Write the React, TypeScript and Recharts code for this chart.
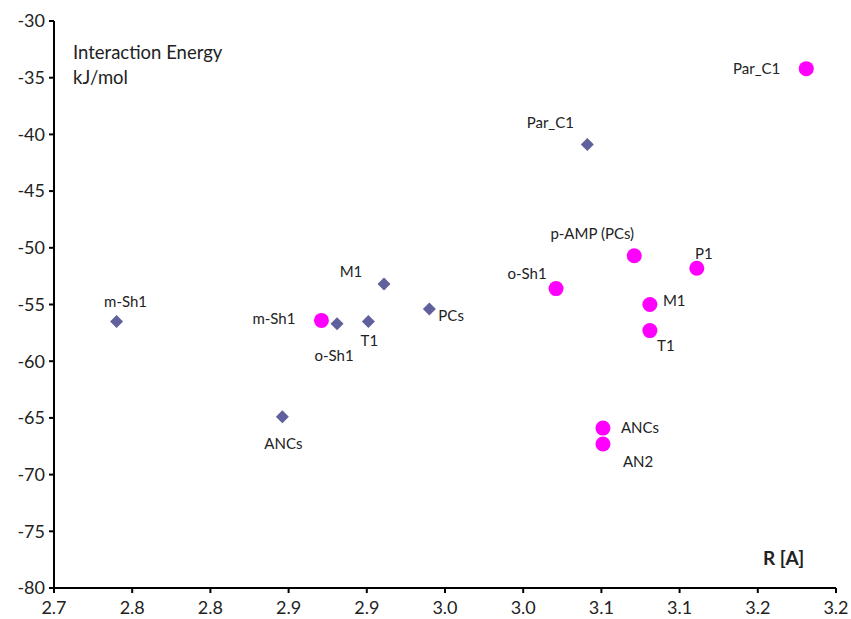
import { ScatterChart, Scatter, XAxis, YAxis } from 'recharts'

// R [A] vs interaction energy, two sets of complexes
const diamondNames = ['m-Sh1', 'ANCs', 'o-Sh1', 'T1', 'M1', 'PCs', 'Par_C1']
const diamondR = [2.740, 2.846, 2.881, 2.901, 2.911, 2.940, 3.041]
const diamondE = [-56.5, -64.9, -56.7, -56.5, -53.2, -55.4, -40.9]

const circleNames = ['m-Sh1', 'o-Sh1', 'p-AMP (PCs)', 'P1', 'M1', 'T1', 'ANCs', 'AN2', 'Par_C1']
const circleR = [2.871, 3.021, 3.071, 3.111, 3.081, 3.081, 3.051, 3.051, 3.181]
const circleE = [-56.4, -53.6, -50.7, -51.8, -55.0, -57.3, -65.9, -67.3, -34.2]

const xTicks = [2.7, 2.75, 2.8, 2.85, 2.9, 2.95, 3.0, 3.05, 3.1, 3.15, 3.2]
const xTickLabels = ['2.7', '2.8', '2.8', '2.9', '2.9', '3.0', '3.0', '3.1', '3.1', '3.2', '3.2']
const yTicks = [-80, -75, -70, -65, -60, -55, -50, -45, -40, -35, -30]

const FONT = 'Lato, "Open Sans", sans-serif'

// label placement: dx, dy from marker centre, anchor
const diamondLabels: Record<string, [number, number, string]> = {
  'm-Sh1': [9, -21, 'middle'],
  'ANCs': [1, 26, 'middle'],
  'o-Sh1': [-3, 31, 'middle'],
  'T1': [1, 18, 'middle'],
  'M1': [-33, -13, 'middle'],
  'PCs': [9, 6, 'start'],
  'Par_C1': [-37, -23, 'middle'],
}
const circleLabels: Record<string, [number, number, string]> = {
  'm-Sh1': [-26, -2, 'end'],
  'o-Sh1': [-29, -16, 'middle'],
  'p-AMP (PCs)': [-42, -23, 'middle'],
  'P1': [7, -15, 'middle'],
  'M1': [13, -5, 'start'],
  'T1': [16, 14, 'middle'],
  'ANCs': [18, -1, 'start'],
  'AN2': [20, 17, 'start'],
  'Par_C1': [-26, -1, 'end'],
}

const diamonds = diamondNames.map((name, i) => ({ name, r: diamondR[i], e: diamondE[i] }))
const circles = circleNames.map((name, i) => ({ name, r: circleR[i], e: circleE[i] }))

function PointLabel({ x, y, text, pos }: { x: number, y: number, text: string, pos: [number, number, string] }) {
  return (
    <text x={x + pos[0]} y={y + pos[1]} textAnchor={pos[2] as any} dominantBaseline="central"
      fontFamily={FONT} fontSize={15} fill="#222">
      {text}
    </text>
  )
}

const DiamondShape = (props: any) => {
  const { cx, cy, payload } = props
  const s = 6.5
  return (
    <g>
      <path d={`M${cx},${cy - s}L${cx + s},${cy}L${cx},${cy + s}L${cx - s},${cy}Z`} fill="#60609c" />
      <PointLabel x={cx} y={cy} text={payload.name} pos={diamondLabels[payload.name]} />
    </g>
  )
}

const CircleShape = (props: any) => {
  const { cx, cy, payload } = props
  return (
    <g>
      <circle cx={cx} cy={cy} r={7.5} fill="#ff00ff" />
      <PointLabel x={cx} y={cy} text={payload.name} pos={circleLabels[payload.name]} />
    </g>
  )
}

export default function App() {
  return (
    <div style={{ position: 'absolute', left: 0, top: 0, width: 851, height: 619, background: '#fff' }}>
      <ScatterChart width={851} height={619} margin={{ top: 21, right: 15, bottom: 0, left: 0 }}>
        <XAxis type="number" dataKey="r" domain={[2.7, 3.2]} ticks={xTicks} allowDataOverflow
          tickFormatter={(_v: number, i: number) => xTickLabels[i]}
          height={31} stroke="#000" strokeWidth={2} tickSize={5} tickMargin={8}
          tick={{ fontSize: 18, fill: '#222', fontFamily: FONT }} />
        <YAxis type="number" dataKey="e" domain={[-80, -30]} ticks={yTicks} allowDataOverflow
          width={54} stroke="#000" strokeWidth={2} tickSize={5} tickMargin={4}
          tick={{ fontSize: 18, fill: '#222', fontFamily: FONT }} />
        <Scatter data={diamonds} shape={DiamondShape} isAnimationActive={false} />
        <Scatter data={circles} shape={CircleShape} isAnimationActive={false} />
        <text x={73} y={52} dominantBaseline="central" fontFamily={FONT} fontSize={18.5} fill="#222">Interaction Energy</text>
        <text x={73} y={77} dominantBaseline="central" fontFamily={FONT} fontSize={18.5} fill="#222">kJ/mol</text>
        <text x={763} y={557} dominantBaseline="central" fontFamily={FONT} fontSize={19} fontWeight="bold" fill="#222">R [A]</text>
      </ScatterChart>
    </div>
  )
}
